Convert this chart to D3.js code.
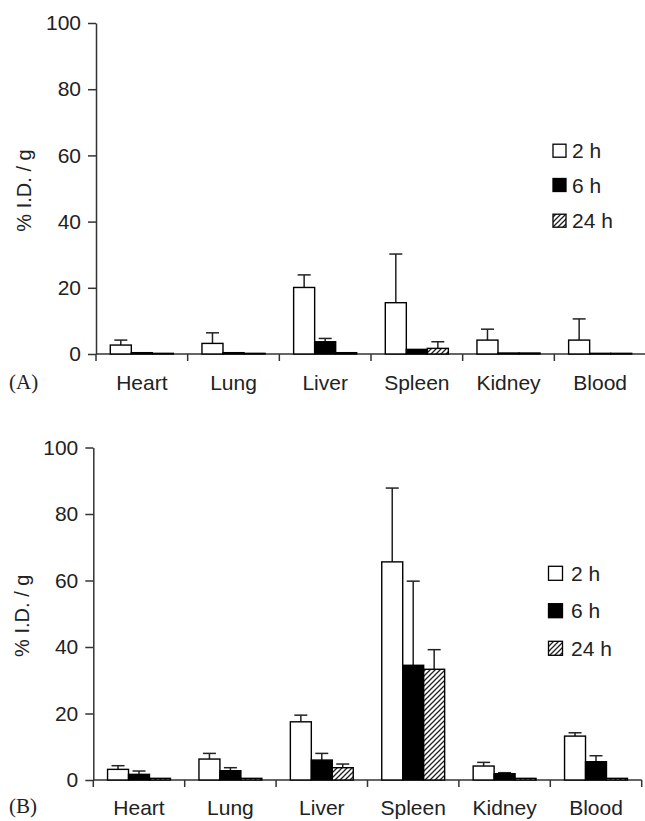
<!DOCTYPE html>
<html>
<head>
<meta charset="utf-8">
<script src="https://cdn.jsdelivr.net/npm/d3@7"></script>
<style>
  html, body { margin: 0; padding: 0; background: #fff; }
  svg { display: block; }
  text { font-family: "Liberation Sans", Arial, Helvetica, sans-serif; fill: #222; }
</style>
</head>
<body>
<svg id="chart" width="645" height="821"></svg>
<script>
// ---- data ----
const categories = ["Heart", "Lung", "Liver", "Spleen", "Kidney", "Blood"];
const series = ["2 h", "6 h", "24 h"];
const yTicks = [0, 20, 40, 60, 80, 100];

// Panel A means and SD
const A_2h  = [2.7, 3.2, 20.1, 15.5, 4.2, 4.2];
const A_6h  = [0.4, 0.4, 3.7, 1.4, 0.3, 0.2];
const A_24h = [0.2, 0.2, 0.4, 1.7, 0.3, 0.2];
const A_2h_err  = [1.5, 3.2, 3.8, 14.7, 3.3, 6.4];
const A_6h_err  = [0, 0, 1.0, 0, 0, 0];
const A_24h_err = [0, 0, 0, 2.0, 0, 0];

// Panel B means and SD
const B_2h  = [3.2, 6.3, 17.5, 65.6, 4.2, 13.2];
const B_6h  = [1.7, 2.8, 6.0, 34.5, 1.9, 5.5];
const B_24h = [0.5, 0.5, 3.7, 33.3, 0.5, 0.5];
const B_2h_err  = [1.1, 1.7, 2.0, 22.2, 1.1, 1.0];
const B_6h_err  = [1.0, 0.9, 2.0, 25.3, 0.3, 1.8];
const B_24h_err = [0, 0, 1.1, 5.9, 0, 0];

const panels = [
  { label: "(A)", means: [A_2h, A_6h, A_24h], errs: [A_2h_err, A_6h_err, A_24h_err],
    x0: 96, x1: 646, y0: 354, y1: 23, labelY: 390, tagY: 389, ylabX: 24,
    legX: 553, legSize: 13, legTextX: 572, legY: [150.7, 185, 220.7] },
  { label: "(B)", means: [B_2h, B_6h, B_24h], errs: [B_2h_err, B_6h_err, B_24h_err],
    x0: 93.3, x1: 641.7, y0: 780, y1: 447.5, labelY: 815, tagY: 813, ylabX: 22,
    legX: 548.5, legSize: 14, legTextX: 571, legY: [573.3, 610.7, 648.3] }
];

const svg = d3.select("#chart");
const defs = svg.append("defs");
const pat = defs.append("pattern").attr("id", "hatch")
  .attr("patternUnits", "userSpaceOnUse").attr("width", 5).attr("height", 5);
pat.append("rect").attr("width", 5).attr("height", 5).attr("fill", "#fff");
pat.append("path").attr("d", "M-1,1 L1,-1 M0,5 L5,0 M4,6 L6,4")
  .attr("stroke", "#222").attr("stroke-width", 1.3);

const fills = ["#fff", "#000", "url(#hatch)"];
const axisColor = "#333";

panels.forEach(p => {
  const g = svg.append("g");
  const x = d3.scaleBand().domain(categories).range([p.x0, p.x1]).paddingInner(0).paddingOuter(0);
  const xs = d3.scaleBand().domain(series).range([0, x.bandwidth()]).paddingInner(0).paddingOuter(0.68);
  const y = d3.scaleLinear().domain([0, 100]).range([p.y0, p.y1]);

  // y axis
  const ya = g.append("g").attr("transform", `translate(${p.x0},0)`)
    .call(d3.axisLeft(y).tickValues(yTicks).tickSize(8).tickSizeOuter(0).tickPadding(7));
  ya.selectAll("path, line").attr("stroke", axisColor).attr("stroke-width", 1.5);
  ya.selectAll("text").style("font-size", "21px").attr("fill", "#222")
    .style("font-family", '"Liberation Sans", Arial, sans-serif');

  // x axis line
  g.append("line").attr("x1", p.x0).attr("x2", p.x1).attr("y1", p.y0).attr("y2", p.y0)
    .attr("stroke", axisColor).attr("stroke-width", 1.5);
  // boundary ticks
  const bounds = categories.map(c => x(c)).concat([x(categories[categories.length - 1]) + x.bandwidth()]);
  g.selectAll(".bt").data(bounds).enter().append("line")
    .attr("x1", d => d).attr("x2", d => d).attr("y1", p.y0).attr("y2", p.y0 + 7)
    .attr("stroke", axisColor).attr("stroke-width", 1.5);
  // category labels
  g.selectAll(".cl").data(categories).enter().append("text")
    .attr("x", d => x(d) + x.bandwidth() / 2).attr("y", p.labelY)
    .attr("text-anchor", "middle").style("font-size", "21px").text(d => d);

  // bars
  series.forEach((s, si) => {
    const vals = p.means[si], errs = p.errs[si];
    const bg = g.append("g");
    categories.forEach((c, ci) => {
      const bx = x(c) + xs(s), bw = xs.bandwidth();
      const v = vals[ci], e = errs[ci];
      if (e > 0) {
        const cx = bx + bw / 2;
        bg.append("line").attr("x1", cx).attr("x2", cx).attr("y1", y(v)).attr("y2", y(v + e))
          .attr("stroke", "#222").attr("stroke-width", 1.5);
        bg.append("line").attr("x1", cx - 6.5).attr("x2", cx + 6.5).attr("y1", y(v + e)).attr("y2", y(v + e))
          .attr("stroke", "#222").attr("stroke-width", 1.5);
      }
      bg.append("rect").attr("x", bx).attr("y", y(v)).attr("width", bw).attr("height", y(0) - y(v))
        .attr("fill", fills[si]).attr("stroke", "#000").attr("stroke-width", 1.4);
    });
  });

  // y label
  g.append("text").attr("transform", `translate(${p.ylabX + 7},${(p.y0 + p.y1) / 2 + 2}) rotate(-90)`)
    .attr("text-anchor", "middle").style("font-size", "20px").text("% I.D. / g");

  // panel tag
  g.append("text").attr("x", 9).attr("y", p.tagY)
    .style("font-family", '"Liberation Serif", "Times New Roman", serif').style("font-size", "21px")
    .text(p.label);

  // legend
  series.forEach((s, si) => {
    const cy = p.legY[si];
    g.append("rect").attr("x", p.legX).attr("y", cy - p.legSize / 2).attr("width", p.legSize).attr("height", p.legSize)
      .attr("fill", fills[si]).attr("stroke", "#000").attr("stroke-width", 1.3);
    g.append("text").attr("x", p.legTextX).attr("y", cy + 7.5).style("font-size", "21px").text(s);
  });
});
</script>
</body>
</html>
